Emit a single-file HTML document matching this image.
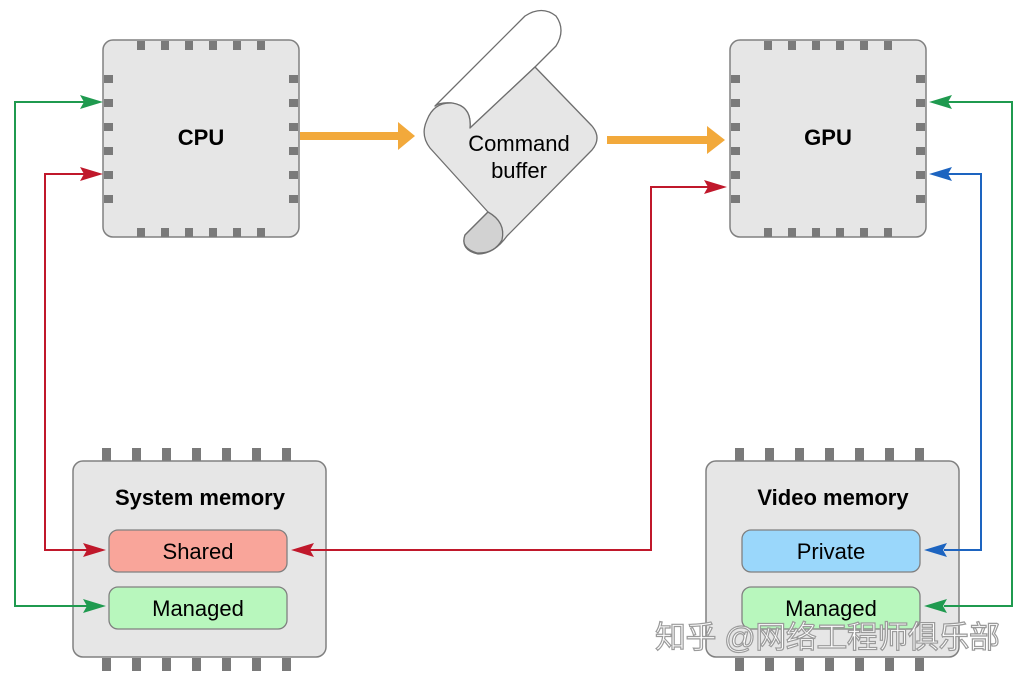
<!DOCTYPE html>
<html><head><meta charset="utf-8"><style>
html,body{margin:0;padding:0;background:#fff;width:1026px;height:682px;overflow:hidden}
svg{display:block}
text{font-family:"Liberation Sans",Arial,sans-serif}
.wm{font-family:"Liberation Sans","Noto Sans CJK SC",sans-serif;font-size:31px;fill:#fff;stroke:#9a9a9a;stroke-width:1.2}
</style></head><body>
<svg width="1026" height="682" viewBox="0 0 1026 682" xmlns="http://www.w3.org/2000/svg">
<!-- CPU -->
<g fill="#7a7a7a">
<rect x="103" y="40" width="196" height="197" rx="10" fill="#e6e6e6" stroke="#808080" stroke-width="1.5"/>
<g id="pt"><rect x="137" y="41" width="8" height="9"/><rect x="161" y="41" width="8" height="9"/><rect x="185" y="41" width="8" height="9"/><rect x="209" y="41" width="8" height="9"/><rect x="233" y="41" width="8" height="9"/><rect x="257" y="41" width="8" height="9"/></g>
<use href="#pt" y="187"/>
<g id="pl"><rect x="104" y="75" width="9" height="8"/><rect x="104" y="99" width="9" height="8"/><rect x="104" y="123" width="9" height="8"/><rect x="104" y="147" width="9" height="8"/><rect x="104" y="171" width="9" height="8"/><rect x="104" y="195" width="9" height="8"/></g>
<use href="#pl" x="185"/>
</g>
<text x="201" y="145" font-size="22" font-weight="bold" text-anchor="middle">CPU</text>
<!-- GPU -->
<g fill="#7a7a7a" transform="translate(627,0)">
<rect x="103" y="40" width="196" height="197" rx="10" fill="#e6e6e6" stroke="#808080" stroke-width="1.5"/>
<use href="#pt"/><use href="#pt" y="187"/><use href="#pl"/><use href="#pl" x="185"/>
</g>
<text x="828" y="145" font-size="22" font-weight="bold" text-anchor="middle">GPU</text>
<!-- memory pins -->
<g fill="#7a7a7a">
<g id="mp"><rect x="102" y="448" width="9" height="13"/><rect x="132" y="448" width="9" height="13"/><rect x="162" y="448" width="9" height="13"/><rect x="192" y="448" width="9" height="13"/><rect x="222" y="448" width="9" height="13"/><rect x="252" y="448" width="9" height="13"/><rect x="282" y="448" width="9" height="13"/></g>
<use href="#mp" y="210"/>
<use href="#mp" x="633"/><use href="#mp" x="633" y="210"/>
</g>
<rect x="73" y="461" width="253" height="196" rx="10" fill="#e6e6e6" stroke="#808080" stroke-width="1.5"/>
<text x="200" y="505" font-size="22" font-weight="bold" text-anchor="middle">System memory</text>
<rect x="109" y="530" width="178" height="42" rx="9" fill="#f9a59a" stroke="#808080" stroke-width="1.3"/>
<text x="198" y="559" font-size="22" text-anchor="middle">Shared</text>
<rect x="109" y="587" width="178" height="42" rx="9" fill="#b8f7bd" stroke="#808080" stroke-width="1.3"/>
<text x="198" y="616" font-size="22" text-anchor="middle">Managed</text>
<!-- Video memory -->
<rect x="706" y="461" width="253" height="196" rx="10" fill="#e6e6e6" stroke="#808080" stroke-width="1.5"/>
<text x="833" y="505" font-size="22" font-weight="bold" text-anchor="middle">Video memory</text>
<rect x="742" y="530" width="178" height="42" rx="9" fill="#9ad7fb" stroke="#808080" stroke-width="1.3"/>
<text x="831" y="559" font-size="22" text-anchor="middle">Private</text>
<rect x="742" y="587" width="178" height="42" rx="9" fill="#b8f7bd" stroke="#808080" stroke-width="1.3"/>
<text x="831" y="616" font-size="22" text-anchor="middle">Managed</text>
<!-- Command buffer scroll -->
<g stroke="#6e6e6e" stroke-width="1.3" stroke-linejoin="round">
<path d="M435,106 L525,16 Q542,5 556,16 Q566,30 556,46 L535,67 L470,128 Q472,106 452,103 Q440,102 435,106Z" fill="#fff"/>
<path d="M470,128 Q472,106 452,103 Q434,102 427,120 Q420,135 430,148 L488,212 L465,235 Q460,250 478,254 Q494,254 507,236 L592,150 Q602,138 592,126 L535,67 Z" fill="#e6e6e6"/>
<path d="M465,235 L488,212 Q506,222 502,240 Q494,254 477,253 Q460,248 465,235Z" fill="#d2d2d2"/>
</g>
<text x="519" y="151" font-size="22" text-anchor="middle">Command</text>
<text x="519" y="178" font-size="22" text-anchor="middle">buffer</text>
<!-- orange arrows -->
<g fill="#f2a93b">
<rect x="300" y="132" width="100" height="8"/><path d="M398,122 L415,136 L398,150z"/>
<rect x="607" y="136" width="102" height="8"/><path d="M707,126 L725,140 L707,154z"/>
</g>
<!-- connectors -->
<g fill="none" stroke-width="2">
<polyline points="87,102 15,102 15,606 88,606" stroke="#1f9a4f"/>
<polyline points="87,174 45,174 45,550 88,550" stroke="#c0182b"/>
<polyline points="309,550 651,550 651,187 710,187" stroke="#c0182b"/>
<polyline points="945,102 1012,102 1012,606 944,606" stroke="#1f9a4f"/>
<polyline points="945,174 981,174 981,550 944,550" stroke="#1d64c0"/>
</g>
<g>
<path d="M103,102 L80,95 L84,102 L80,109z" fill="#1f9a4f"/>
<path d="M103,174 L80,167 L84,174 L80,181z" fill="#c0182b"/>
<path d="M106,550 L83,543 L87,550 L83,557z" fill="#c0182b"/>
<path d="M106,606 L83,599 L87,606 L83,613z" fill="#1f9a4f"/>
<path d="M291,550 L314,543 L310,550 L314,557z" fill="#c0182b"/>
<path d="M727,187 L704,180 L708,187 L704,194z" fill="#c0182b"/>
<path d="M929,102 L952,95 L948,102 L952,109z" fill="#1f9a4f"/>
<path d="M929,174 L952,167 L948,174 L952,181z" fill="#1d64c0"/>
<path d="M924,550 L947,543 L943,550 L947,557z" fill="#1d64c0"/>
<path d="M924,606 L947,599 L943,606 L947,613z" fill="#1f9a4f"/>
</g>
<text x="655" y="648" class="wm" textLength="345">知乎 @网络工程师俱乐部</text>
</svg>
</body></html>
